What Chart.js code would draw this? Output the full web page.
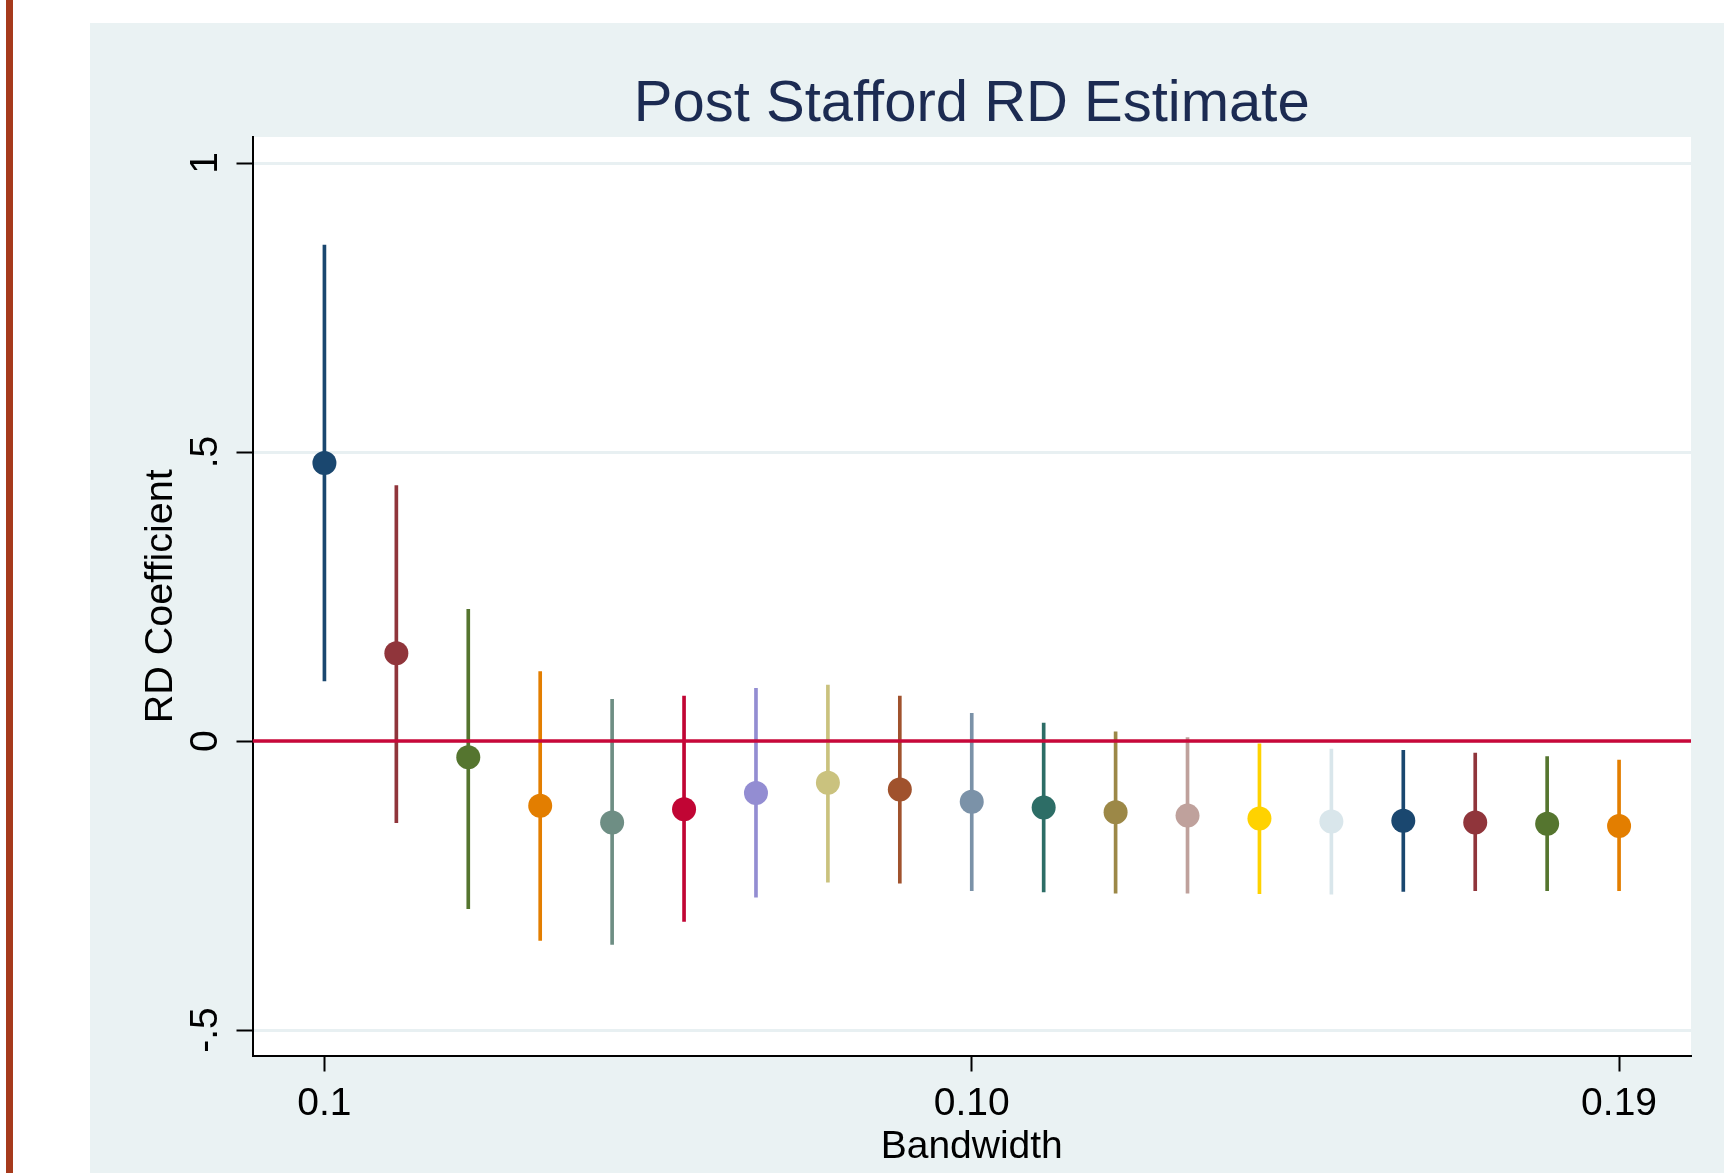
<!DOCTYPE html>
<html>
<head>
<meta charset="utf-8">
<script src="https://cdn.jsdelivr.net/npm/chart.js@4.4.0/dist/chart.umd.min.js"></script>
<style>
  body { margin: 0; background: #fff; width: 1724px; height: 1173px; overflow: hidden; position: relative; }
  #edge { position: absolute; left: 6px; top: 0; width: 7px; height: 1173px; background: #a63a1c; }
  #panel { position: absolute; left: 90px; top: 23px; right: 0; bottom: 0; background: #eaf2f3; }
  #wrap { position: absolute; left: 0; top: 0; width: 1724px; height: 1173px; }
</style>
</head>
<body>
<div id="edge"></div>
<div id="panel"></div>
<div id="wrap"><canvas id="rdChart" width="1724" height="1173"></canvas></div>
<script>
const titleText = "Post Stafford RD Estimate";

// bandwidth position on the axis (1st .. 19th estimate)
const xPos = [1, 2, 3, 4, 5, 6, 7, 8, 9, 10, 11, 12, 13, 14, 15, 16, 17, 18, 19];
const coef = [0.481, 0.152, -0.028, -0.112, -0.141, -0.118, -0.090, -0.072, -0.084, -0.105,
              -0.115, -0.123, -0.129, -0.134, -0.139, -0.138, -0.141, -0.143, -0.147];
const upper = [0.858, 0.442, 0.228, 0.120, 0.072, 0.078, 0.091, 0.097, 0.078, 0.048,
               0.031, 0.016, 0.006, -0.005, -0.014, -0.016, -0.021, -0.027, -0.033];
const lower = [0.104, -0.141, -0.290, -0.345, -0.352, -0.312, -0.270, -0.244, -0.246, -0.259,
               -0.261, -0.263, -0.263, -0.264, -0.265, -0.260, -0.259, -0.259, -0.259];

const xTickValues = [1, 10, 19];
const xTickLabels = ["0.1", "0.10", "0.19"];
const yTickValues = [-0.5, 0, 0.5, 1];
const yTickLabels = ["-.5", "0", ".5", "1"];

// stata s2color order
const colors = ["#1a476f", "#90353b", "#55752f", "#e37e00", "#6e8e84", "#c10534", "#938dd2",
                "#cac27e", "#a0522d", "#7b92a8", "#2d6d66", "#9c8847", "#bfa19c", "#ffd200",
                "#d9e6eb", "#1a476f", "#90353b", "#55752f", "#e37e00"];

const FONT = "'Liberation Sans', Arial, sans-serif";

const stataBits = {
  id: "stataBits",
  beforeDraw(chart) {
    const { ctx, chartArea: a } = chart;
    ctx.save();
    ctx.fillStyle = "#ffffff";
    ctx.fillRect(a.left, a.top, a.right - a.left, a.bottom - a.top);
    ctx.restore();
  },
  afterDraw(chart) {
    const { ctx, chartArea: a, scales } = chart;
    ctx.save();
    ctx.fillStyle = "#1c2b52";
    ctx.font = "58px " + FONT;
    ctx.textAlign = "center";
    ctx.textBaseline = "alphabetic";
    ctx.fillText(titleText, (a.left + a.right) / 2, 121);

    // y tick labels are turned on their side
    ctx.fillStyle = "#000";
    ctx.font = "39px " + FONT;
    ctx.textBaseline = "middle";
    yTickValues.forEach((v, i) => {
      const y = scales.y.getPixelForValue(v);
      ctx.save();
      ctx.translate(a.left - 46, y);
      ctx.rotate(-Math.PI / 2);
      ctx.fillText(yTickLabels[i], 0, 0);
      ctx.restore();
    });
    ctx.restore();
  }
};

const ctx = document.getElementById("rdChart").getContext("2d");
const rdChart = new Chart(ctx, {
  data: {
    datasets: [
      {
        type: "scatter",
        label: "RD coefficient",
        data: xPos.map((x, i) => ({ x: x, y: coef[i] })),
        pointBackgroundColor: colors,
        pointBorderWidth: 0,
        pointRadius: 12,
        pointHoverRadius: 12,
        order: 1,
      },
      {
        type: "line",
        label: "zero",
        data: [{ x: 0, y: 0 }, { x: 20, y: 0 }],
        borderColor: "#c8083a",
        borderWidth: 3.5,
        pointRadius: 0,
        order: 2,
      },
      {
        type: "bar",
        label: "CI",
        data: xPos.map((x, i) => ({ x: x, y: [lower[i], upper[i]] })),
        backgroundColor: colors,
        barThickness: 3,
        order: 3,
      },
    ],
  },
  options: {
    responsive: false,
    animation: false,
    devicePixelRatio: 1,
    layout: { padding: { top: 137, right: 33, left: 0, bottom: 0 } },
    plugins: {
      legend: { display: false },
      tooltip: { enabled: false },
    },
    scales: {
      x: {
        type: "linear",
        position: "bottom",
        min: 0,
        max: 20,
        offset: false,
        afterBuildTicks: (s) => { s.ticks = xTickValues.map((v) => ({ value: v })); },
        afterFit: (s) => { s.height = 117.5; },
        grid: { display: true, offset: false, drawOnChartArea: false, tickLength: 16, tickColor: "#000", tickWidth: 2 },
        border: { display: true, color: "#000", width: 2 },
        ticks: {
          color: "#000",
          font: { family: FONT, size: 39 },
          padding: 9,
          maxRotation: 0,
          autoSkip: false,
          callback: (v) => xTickLabels[xTickValues.indexOf(v)],
        },
        title: {
          display: true,
          text: "Bandwidth",
          color: "#000",
          font: { family: FONT, size: 39 },
          padding: { top: 0, bottom: 2 },
        },
      },
      y: {
        type: "linear",
        min: -0.544,
        max: 1.045,
        afterBuildTicks: (s) => { s.ticks = yTickValues.map((v) => ({ value: v })); },
        afterFit: (s) => { s.width = 252.5; },
        grid: { color: "#e8f0f2", lineWidth: 3, tickLength: 16, tickColor: "#000", tickWidth: 2 },
        border: { color: "#000", width: 2 },
        ticks: { display: false },
        title: {
          display: true,
          text: "RD Coefficient",
          color: "#000",
          font: { family: FONT, size: 39.5 },
          padding: { top: 137, bottom: 0 },
        },
      },
    },
  },
  plugins: [stataBits],
});
</script>
</body>
</html>
